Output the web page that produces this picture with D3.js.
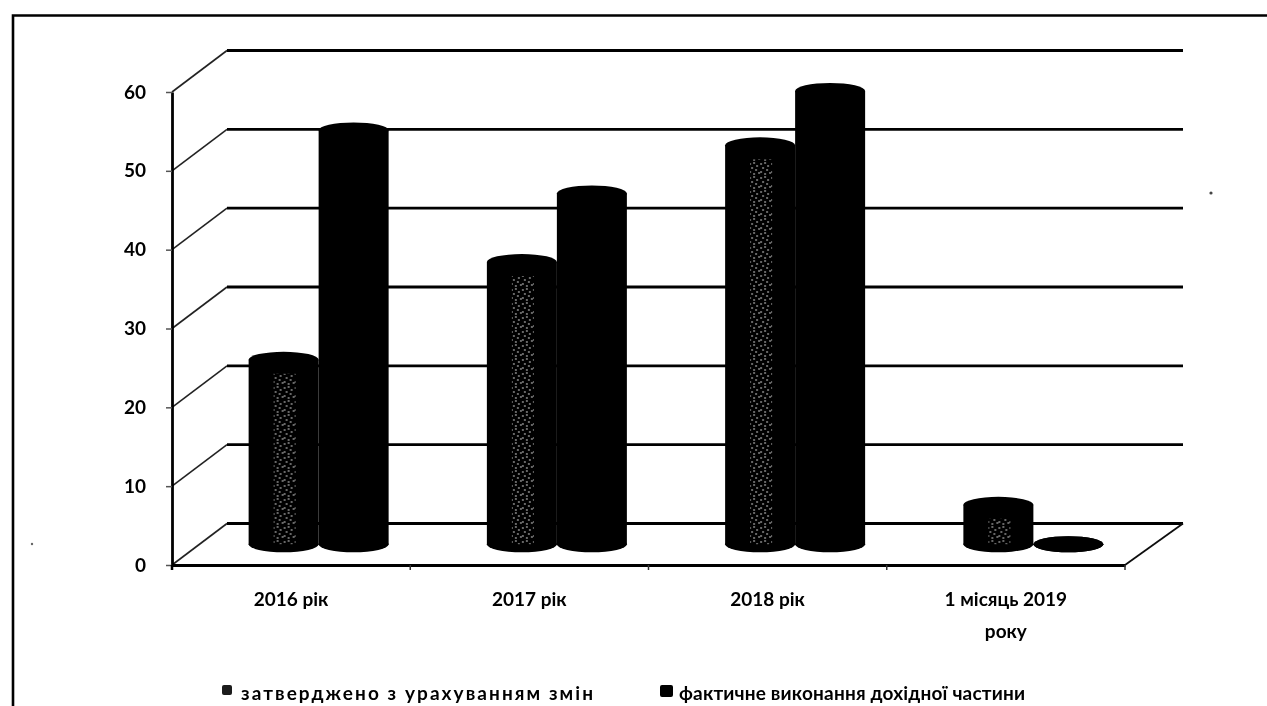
<!DOCTYPE html>
<html>
<head>
<meta charset="utf-8">
<script src="https://cdn.jsdelivr.net/npm/d3@7"></script>
<style>
  html, body { margin: 0; padding: 0; background: #fff; }
  svg { display: block; }
  text { font-family: Lato, "Open Sans", sans-serif; font-weight: 700; fill: #000; }
</style>
</head>
<body>
<svg width="1267" height="706"></svg>
<script>
var categories = ["2016 рік", "2017 рік", "2018 рік", "1 місяць 2019|року"];
var seriesNames = ["затверджено з урахуванням змін", "фактичне виконання дохідної частини"];
var approved = [23.4, 35.8, 50.6, 5];
var actual   = [52.5, 44.5, 57.5, 0];
var yTicks   = [0, 10, 20, 30, 40, 50, 60];

var svg = d3.select("svg"),
    margin = {top: 92, left: 172, right: 142, bottom: 141},
    width  = +svg.attr("width") - margin.left - margin.right,
    height = +svg.attr("height") - margin.top - margin.bottom,
    depthX = 55,
    depthY = -41.5;

var x  = d3.scaleBand().domain(categories).range([0, width]),
    x1 = d3.scaleBand().domain([0, 1]).range([-70, 70]),
    y  = d3.scaleLinear().domain([0, 60]).range([height, 0]);

var defs = svg.append("defs");

defs.append("filter").attr("id", "scan")
    .attr("x", 0).attr("y", 0).attr("width", 1).attr("height", 1)
    .attr("filterUnits", "userSpaceOnUse")
    .attr("width", 1267).attr("height", 706)
    .append("feGaussianBlur").attr("stdDeviation", 0.55);

// the halftone dots that survive in the lighter bars
var dots = defs.append("pattern").attr("id", "stipple")
    .attr("width", 11).attr("height", 14)
    .attr("patternUnits", "userSpaceOnUse");
[[1, 2], [5, 1], [8, 4], [3, 6], [7, 8], [1, 10], [5, 12], [10, 11]].forEach(function(d) {
  dots.append("circle").attr("cx", d[0]).attr("cy", d[1]).attr("r", 0.9).attr("fill", "#c8c8c8");
});

var root = svg.append("g").attr("filter", "url(#scan)");

// frame, open on the right and at the bottom
root.append("path")
    .attr("d", d3.line()([[13, 706], [13, 15.5], [1267, 15.5]]))
    .attr("fill", "none")
    .attr("stroke", "#000")
    .attr("stroke-width", 2.6);

// specks from the scan
root.append("circle").attr("cx", 1211).attr("cy", 193).attr("r", 1.6).attr("fill", "#444");
root.append("circle").attr("cx", 32).attr("cy", 544).attr("r", 1.2).attr("fill", "#666");

var chart = root.append("g")
    .attr("transform", "translate(" + margin.left + "," + margin.top + ")");

// side wall
chart.append("g").selectAll("line")
    .data(yTicks)
    .enter().append("line")
    .attr("x1", 0)
    .attr("y1", function(d) { return y(d); })
    .attr("x2", depthX)
    .attr("y2", function(d) { return y(d) + depthY; })
    .attr("stroke", "#222")
    .attr("stroke-width", 1.6);

// back wall
chart.append("g").selectAll("line")
    .data(yTicks)
    .enter().append("line")
    .attr("x1", depthX)
    .attr("y1", function(d) { return y(d) + depthY; })
    .attr("x2", width + depthX + 3)
    .attr("y2", function(d) { return y(d) + depthY; })
    .attr("stroke", "#000")
    .attr("stroke-width", 2.8);

// right edge of the floor
chart.append("line")
    .attr("x1", width)
    .attr("y1", y(0))
    .attr("x2", width + depthX + 3)
    .attr("y2", y(0) + depthY)
    .attr("stroke", "#111")
    .attr("stroke-width", 1.8);

var yAxis = d3.axisLeft(y).tickValues(yTicks).tickSize(6).tickPadding(20).tickSizeOuter(0);
var xAxis = d3.axisBottom(x).tickSize(5).tickSizeOuter(0).tickFormat("");

var gy = chart.append("g").call(yAxis);
gy.select(".domain").attr("stroke", "#000").attr("stroke-width", 2.8);
gy.selectAll(".tick line").attr("stroke", "#555").attr("stroke-width", 1.5);
gy.selectAll(".tick text").attr("font-size", 19).attr("font-family", null);

var gx = chart.append("g")
    .attr("transform", "translate(0," + height + ")")
    .call(xAxis);
gx.select(".domain").attr("stroke", "#000").attr("stroke-width", 2.8);
gx.selectAll(".tick line")
    .attr("stroke", "#333")
    .attr("stroke-width", 1.5)
    .attr("transform", function(d) { return "translate(" + (x.bandwidth() / 2) + ",0)"; });
gx.append("line").attr("y2", 5).attr("stroke", "#000").attr("stroke-width", 2.5);

// category labels
chart.append("g").selectAll("text")
    .data(categories)
    .enter().append("text")
    .attr("text-anchor", "middle")
    .attr("font-size", 19)
    .attr("transform", function(d) {
      return "translate(" + (x(d) + x.bandwidth() / 2) + "," + (height + 41) + ")";
    })
    .selectAll("tspan")
    .data(function(d) { return d.split("|"); })
    .enter().append("tspan")
    .attr("x", 0)
    .attr("dy", function(d, i) { return i ? 32 : 0; })
    .text(function(d) { return d; });

// cylinders
var rx = x1.bandwidth() / 2,
    ry = 8,
    floorY = y(0) + depthY / 2;

function barCenter(cat, s) {
  return x(cat) + x.bandwidth() / 2 + depthX / 2 + x1(s) + rx;
}

function topOf(v) {
  return y(v) + depthY / 2;
}

[approved, actual].forEach(function(values, s) {
  var bars = chart.append("g").selectAll("g")
      .data(categories)
      .enter().append("g")
      .attr("transform", function(d) { return "translate(" + barCenter(d, s) + ",0)"; });

  bars.append("rect")
      .attr("x", -rx)
      .attr("width", 2 * rx)
      .attr("y", function(d, i) { return topOf(values[i]); })
      .attr("height", function(d, i) { return floorY - topOf(values[i]); })
      .attr("fill", "#000");

  bars.append("ellipse")
      .attr("rx", rx)
      .attr("ry", ry)
      .attr("cy", floorY)
      .attr("fill", "#000");

  bars.append("ellipse")
      .attr("rx", rx)
      .attr("ry", ry)
      .attr("cy", function(d, i) { return topOf(values[i]); })
      .attr("fill", "#000");

  if (s === 0) {
    bars.append("rect")
        .attr("x", -10)
        .attr("width", 22)
        .attr("y", function(d, i) { return topOf(values[i]) + 14; })
        .attr("height", function(d, i) { return Math.max(0, floorY - topOf(values[i]) - 14); })
        .attr("fill", "url(#stipple)")
        .attr("opacity", 0.75);
  }
});

// legend
var legend = root.append("g");
var legendX = d3.scaleOrdinal().domain(seriesNames).range([222, 660]);
var legendW = d3.scaleOrdinal().domain(seriesNames).range([352, 346]);

legend.selectAll("rect")
    .data(seriesNames)
    .enter().append("rect")
    .attr("x", function(d) { return legendX(d); })
    .attr("y", 685)
    .attr("width", function(d, i) { return i ? 13 : 10; })
    .attr("height", function(d, i) { return i ? 12 : 10; })
    .attr("rx", 2)
    .attr("fill", function(d, i) { return i ? "#000" : "#1c1c1c"; });

legend.selectAll("text")
    .data(seriesNames)
    .enter().append("text")
    .attr("x", function(d, i) { return legendX(d) + (i ? 19 : 19); })
    .attr("y", 700)
    .attr("font-size", 19)
    .attr("textLength", function(d) { return legendW(d); })
    .attr("lengthAdjust", "spacing")
    .text(function(d) { return d; });
</script>
</body>
</html>
